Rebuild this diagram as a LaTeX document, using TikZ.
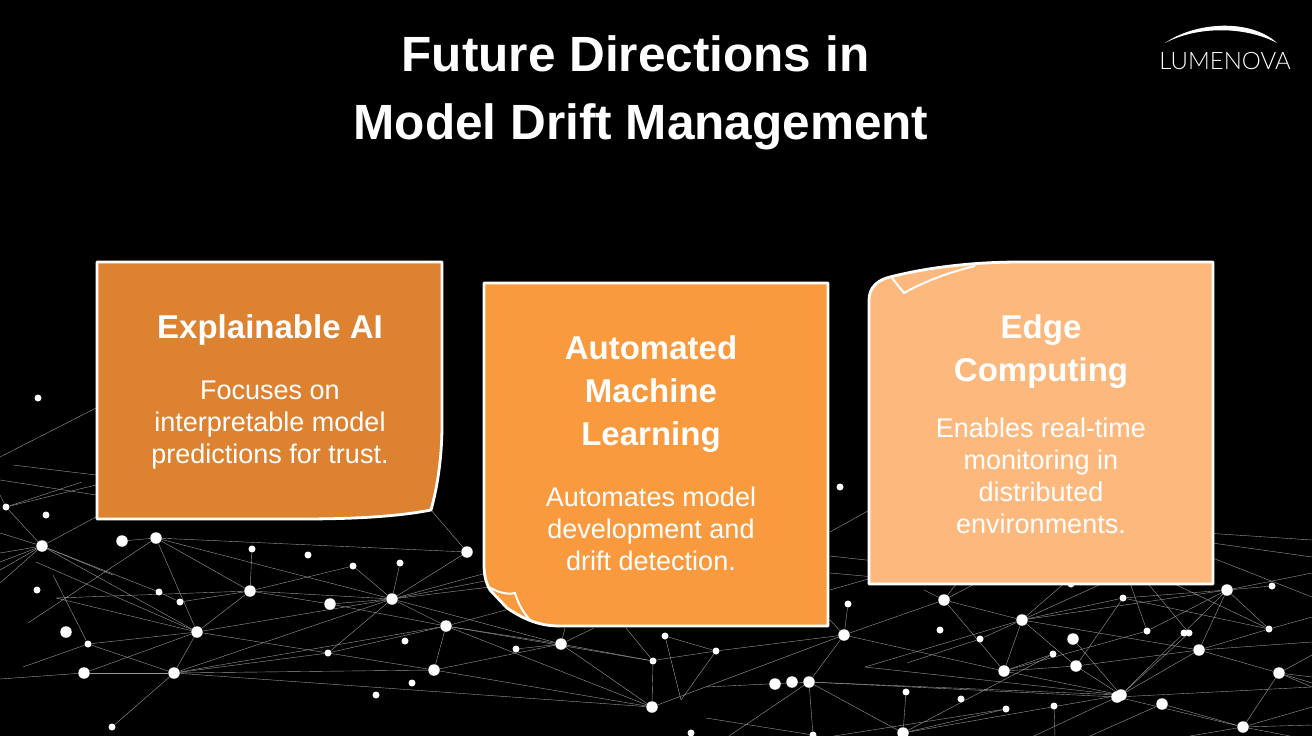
\documentclass[tikz,border=0pt]{standalone}
\usepackage{fontspec}
\setmainfont{Liberation Sans}
\newfontfamily\logofont{Lato Light}
\usetikzlibrary{positioning}
\usetikzlibrary{backgrounds}
\definecolor{cardA}{HTML}{DD8231}
\definecolor{cardB}{HTML}{FA9A3E}
\definecolor{cardC}{HTML}{FDB97D}
\begin{document}
\begin{tikzpicture}[x=1pt, y=-1pt,
    D/.style={circle, fill=white, inner sep=0pt, minimum size=7pt},
    B/.style={circle, fill=white, inner sep=0pt, minimum size=11.5pt},
    E/.style={white!60!black, line width=0.4pt},
    Card/.style={draw=white, line width=2.8pt, line join=round},
    Fold/.style={draw=white, line width=2pt, line join=miter},
    Head/.style={text=white, font=\fontsize{33}{43}\selectfont\bfseries, align=center, inner sep=0pt},
    Body/.style={text=white, font=\fontsize{27}{32}\selectfont, align=center, inner sep=0pt},
    Title/.style={text=white, font=\fontsize{49.5}{50}\selectfont\bfseries, inner sep=0pt, anchor=base}]
    \useasboundingbox (0,0) rectangle (1312,736);
    \foreach \n/\x/\y in {l1/38/398, l2/6/507, l3/46/515, l7/252/549, l8/308/555, l9/353/566, l10/400/563,
        l12/37/590, l13/159/592, l14/180/602, l19/405/641, l20/516/649, l23/88/644, l25/328/653,
        l29/412/683, l30/376/695, l31/112/727, l32/653/661,
        r1/840/487, r2/848/604, r3/665/636, r4/716/651, r8/980/639, r9/940/630, r11/1053/654,
        r14/1123/598, r15/1147/631, r16/1184/633, r17/1189/633, r20/1272/586, r21/1269/629,
        r26/906/692, r27/961/699, r31/1006/709, r32/1054/706, r35/691/733, r36/813/735, r38/1071/584}
        \node[D] (\n) at (\x,\y) {};
    \foreach \n/\x/\y in {l4/42/546, l5/122/541, l6/156/538, l11/467/552, l15/250/591, l16/330/604,
        l17/392/599, l18/446/626, l21/561/644, l22/66/632, l24/197/632, l26/84/673, l27/174/673,
        l28/434/670, l33/652/707,
        r5/844/635, r6/944/600, r7/1022/620, r10/1073/639, r12/1076/666, r13/1004/671, r18/1199/650,
        r19/1227/590, r22/1279/673, r23/775/684, r24/792/682, r25/809/682, r28/1117/697, r29/1121/695,
        r30/1162/704, r33/1243/727, r34/903/733}
        \node[B] (\n) at (\x,\y) {};
    \foreach \n/\x/\y in {f1/0/457, f2/96/408, f3/13/465, f4/96/475, f5/0/480, f6/96/495, f7/82/482,
        f8/96/485, f9/96/517, f10/113/575, f11/0/533, f12/0/553, f13/0/562, f14/0/570, f15/0/583,
        f16/0/495, f17/28/623, f18/56/598, f19/36/562, f20/23/667, f21/53/575, f22/0/679,
        f23/490/572, f24/490/580, f25/490/587, f26/506/610, f27/565/628, f28/594/628, f29/626/628,
        f30/431/510,
        g1/830/532, g2/875/507, g3/830/556, g4/875/561, g5/830/573, g6/875/577, g7/830/590, g8/830/620,
        g9/907/663, g10/865/667, g11/959/580, g12/982/580, g13/924/590, g14/1068/580, g15/1110/580,
        g16/1129/580, g17/1145/580, g18/1166/580, g19/1205/533, g20/1312/540, g21/1205/542, g22/1312/557,
        g23/1205/555, g24/1312/597, g25/1312/573, g26/1312/617, g27/1312/642, g28/1312/655, g29/1312/677,
        g30/1312/683, g31/1312/687, g32/1312/707, g33/656/660, g34/681/700, g35/706/687, g36/706/718,
        g37/729/736, g38/834/736, g39/1055/736, g40/1034/736, g41/1090/736, g42/1312/725, g43/1190/736,
        g44/1290/736}
        \coordinate (\n) at (\x,\y);
    \begin{scope}[on background layer]
        \fill[black] (0,0) rectangle (1312,736);
        \foreach \a/\b in {f1/f2, f3/f4, f5/f6, l2/f7, l2/f8, l2/f16, l2/l4, l4/f9, l4/f10, l4/f11, l4/f12,
            l4/f13, l4/f14, l4/f15, l4/l13, l4/l24, f19/l24, l13/l14, l14/l15,
            l5/l6, l6/l11, l6/l15, l6/l17, l6/l24, l6/f17, l7/l15, l9/l15, l15/l16, l15/l17, l15/l24, l15/f18,
            f18/l24, l17/l16, l17/l9, l17/l10, l17/l11, l17/l18, l17/l25, l17/l27, l17/l21, l17/f23, l17/f24,
            l17/f25, l11/f30, l16/l18, l18/l21, l18/l28, l18/l25, l18/l33, l18/f26, l18/l32, l24/l17, l24/l28,
            l24/l23, l24/l26, l24/l27, l23/l27, l23/f20, l23/f21, l26/l27, l26/f22, l27/l31, l27/l28, l27/l25,
            l27/l33, l27/l18, l28/l21, l28/l33, l21/l20, l21/l32, l21/l33, l21/f27, l21/f28, l32/f29, l32/l33,
            g1/g2, g3/g4, g5/g6, g7/g6, g8/r5, r5/r4, r5/r25, r5/r6, r5/r13, r5/r2, l33/r5, r4/g33, r3/r4, r3/g34,
            r4/g34, r6/r7, r6/r13, r6/g11, r6/g12, r6/g13, g10/r7, g9/r8, r8/r7, r7/r13, r7/r12, r7/r18, r7/r19,
            r7/r14, r7/g14, r7/g15, r14/r12, r14/r21, g16/r15, r15/r13, g17/r17, g18/r21, r10/r29, r12/r13, r12/r18,
            r12/r29, r13/r11, r11/r34, r13/r29, r25/r29, r25/r34, r25/r28, r25/r36, r25/g35, r25/g37, r26/r34,
            r34/r31, r34/r29, g10/r29, r29/r18, r29/r17, r29/r19, r28/r33, r30/r33, r33/r22, r18/r22, r18/r21,
            r18/r19, r19/r21, r19/r20, r19/g25, r19/r14, r19/r15, g19/g20, g21/g22, g23/g24, r21/g26, r18/g27,
            r22/g28, r22/g29, r22/g30, r22/g31, r33/g32, r33/g42, r31/g38, r32/g39, r28/g40, r30/g41, r33/g43,
            r36/g36, r33/g44, r28/g31}
            \draw[E] (\a) -- (\b);
    \end{scope}
    \draw[Card, fill=cardA] (97,262) -- (442,262) -- (442,425) .. controls (442,455) and (438,485) .. (431,510)
        .. controls (395,517) and (350,519) .. (300,519) -- (97,519) -- cycle;
    \draw[Card, fill=cardB] (484,283) -- (828,283) -- (828,626) -- (560,626)
        .. controls (540,626) and (525,620) .. (507,608) -- (490,590) .. controls (486,583) and (484,575) .. (484,565) -- cycle;
    \draw[Fold] (489,587) .. controls (497,592) and (507,595) .. (515,593) .. controls (518,603) and (523,613) .. (531,621);
    \draw[Card, fill=cardC] (869,300) .. controls (869,288) and (877,280) .. (890,277)
        .. controls (925,268) and (970,262) .. (1020,262) -- (1213,262) -- (1213,584) -- (869,584) -- cycle;
    \draw[Fold] (892,278) -- (904,293) .. controls (925,281) and (950,272) .. (975,266);
    \node[Head] (head_a) at (270,330) {Explainable AI};
    \node[Body, below = 35pt of head_a] (body_a) {Focuses on\\interpretable model\\predictions for trust.};
    \node[Head] (head_b) at (651,394) {Automated\\Machine\\Learning};
    \node[Body, below = 34pt of head_b] (body_b) {Automates model\\development and\\drift detection.};
    \node[Head] (head_c) at (1041,352) {Edge\\Computing};
    \node[Body, below = 29pt of head_c] (body_c) {Enables real-time\\monitoring in\\distributed\\environments.};
    \node[Title] (title_a) at (635.5,71) {Future Directions in};
    \node[Title] (title_b) at (641,139) {Model Drift Management};
    \node[text=white, font=\logofont\fontsize{24}{24}\selectfont, inner sep=0pt] (logo) at (1225,61) {LUMENOVA};
    \fill[white] (1165,43) .. controls (1195,22) and (1250,18) .. (1277,43) .. controls (1245,26) and (1197,26) .. (1165,43) -- cycle;
\end{tikzpicture}
\end{document}
